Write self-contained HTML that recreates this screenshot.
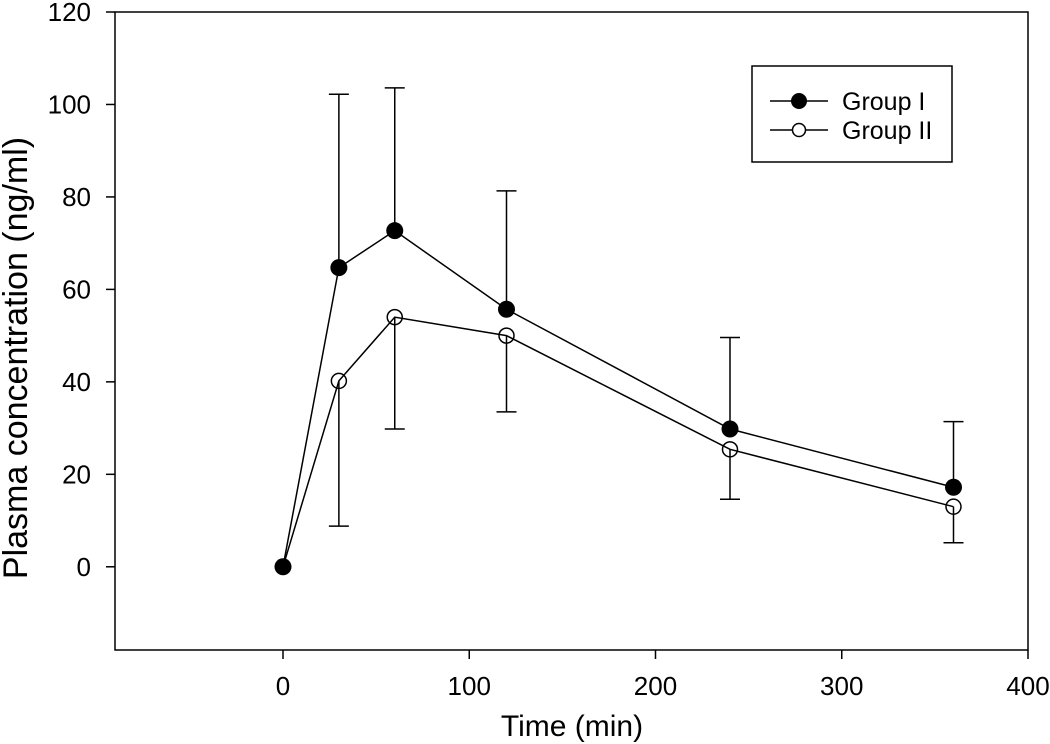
<!DOCTYPE html>
<html><head><meta charset="utf-8"><style>
body{margin:0;background:#fff}
svg{display:block;font-family:"Liberation Sans",Arial,sans-serif}
</style></head><body>
<svg id="chart" width="1050" height="744" viewBox="0 0 1050 744">
<g id="axes"></g>
<g id="marks"></g>
<g>
<rect x="752" y="66" width="200" height="96" fill="#fff" stroke="#000" stroke-width="1.5"/>
<line x1="770" y1="101" x2="828" y2="101" stroke="#000" stroke-width="1.5"/>
<circle cx="799" cy="101" r="8" fill="#000"/>
<text x="842" y="110" font-size="25">Group I</text>
<line x1="770" y1="130" x2="828" y2="130" stroke="#000" stroke-width="1.5"/>
<circle cx="799" cy="130" r="6.5" fill="#fff" stroke="#000" stroke-width="1.5"/>
<text x="842" y="139" font-size="25">Group II</text>
</g>
<text x="572" y="736" font-size="30" text-anchor="middle">Time (min)</text>
<text transform="translate(27,358) rotate(-90)" font-size="34" text-anchor="middle">Plasma concentration (ng/ml)</text>
</svg>
<script>
const times = [0, 30, 60, 120, 240, 360];
const group1 = [0, 64.7, 72.7, 55.7, 29.8, 17.2];
const group1Upper = [0, 102.2, 103.6, 81.3, 49.6, 31.4];
const group2 = [0, 40.2, 54.0, 50.0, 25.4, 13.0];
const group2Lower = [0, 8.8, 29.8, 33.5, 14.6, 5.2];
const xTicks = [0, 100, 200, 300, 400];
const yTicks = [0, 20, 40, 60, 80, 100, 120];

const NS = "http://www.w3.org/2000/svg";
const X0 = 115, X1 = 1028, Y0 = 650, Y1 = 12;
const xMin = -90.2, xMax = 400, yMin = -18, yMax = 120;
function sx(v){ return X0 + (v - xMin) / (xMax - xMin) * (X1 - X0); }
function sy(v){ return Y0 - (v - yMin) / (yMax - yMin) * (Y0 - Y1); }
function mk(tag, attrs, parent){
  const e = document.createElementNS(NS, tag);
  for (const k in attrs) e.setAttribute(k, attrs[k]);
  parent.appendChild(e);
  return e;
}
const axes = document.getElementById('axes');
const marks = document.getElementById('marks');
const frame = mk('rect', {x:X0, y:Y1, width:X1-X0, height:Y0-Y1, fill:'none', stroke:'#000', 'stroke-width':1.5}, axes);


xTicks.forEach(t => {
  const x = sx(t);
  const l = mk('line', {x1:x, y1:Y0, x2:x, y2:Y0+9, stroke:'#000', 'stroke-width':1.5}, axes);
  
  
  const tx = mk('text', {x:x, y:Y0+45, 'font-size':26, 'text-anchor':'middle'}, axes);
  tx.textContent = t;
  
  
});
yTicks.forEach(t => {
  const y = sy(t);
  const l = mk('line', {x1:X0-9, y1:y, x2:X0, y2:y, stroke:'#000', 'stroke-width':1.5}, axes);
  
  
  const tx = mk('text', {x:X0-24, y:y+9, 'font-size':26, 'text-anchor':'end'}, axes);
  tx.textContent = t;
  
  
});
function errBar(i, v, end){
  if (end === v) return;
  const x = sx(times[i]);
  const a = mk('line', {x1:x, y1:sy(v), x2:x, y2:sy(end), stroke:'#000', 'stroke-width':1.5}, marks);
  
  
  const c = mk('line', {x1:x-10, y1:sy(end), x2:x+10, y2:sy(end), stroke:'#000', 'stroke-width':1.5}, marks);
  
  
}
times.forEach((t,i) => { errBar(i, group1[i], group1Upper[i]); errBar(i, group2[i], group2Lower[i]); });
const p2 = mk('polyline', {points: times.map((t,i)=>sx(t)+','+sy(group2[i])).join(' '), fill:'none', stroke:'#000', 'stroke-width':1.5}, marks);


const p1 = mk('polyline', {points: times.map((t,i)=>sx(t)+','+sy(group1[i])).join(' '), fill:'none', stroke:'#000', 'stroke-width':1.5}, marks);


times.forEach((t,i) => {
  const c = mk('circle', {cx:sx(t), cy:sy(group2[i]), r:7.5, fill:'none', stroke:'#000', 'stroke-width':1.5}, marks);
  
  
});
times.forEach((t,i) => {
  const c = mk('circle', {cx:sx(t), cy:sy(group1[i]), r:8.5, fill:'#000'}, marks);
  
  
});
</script>
</body></html>
